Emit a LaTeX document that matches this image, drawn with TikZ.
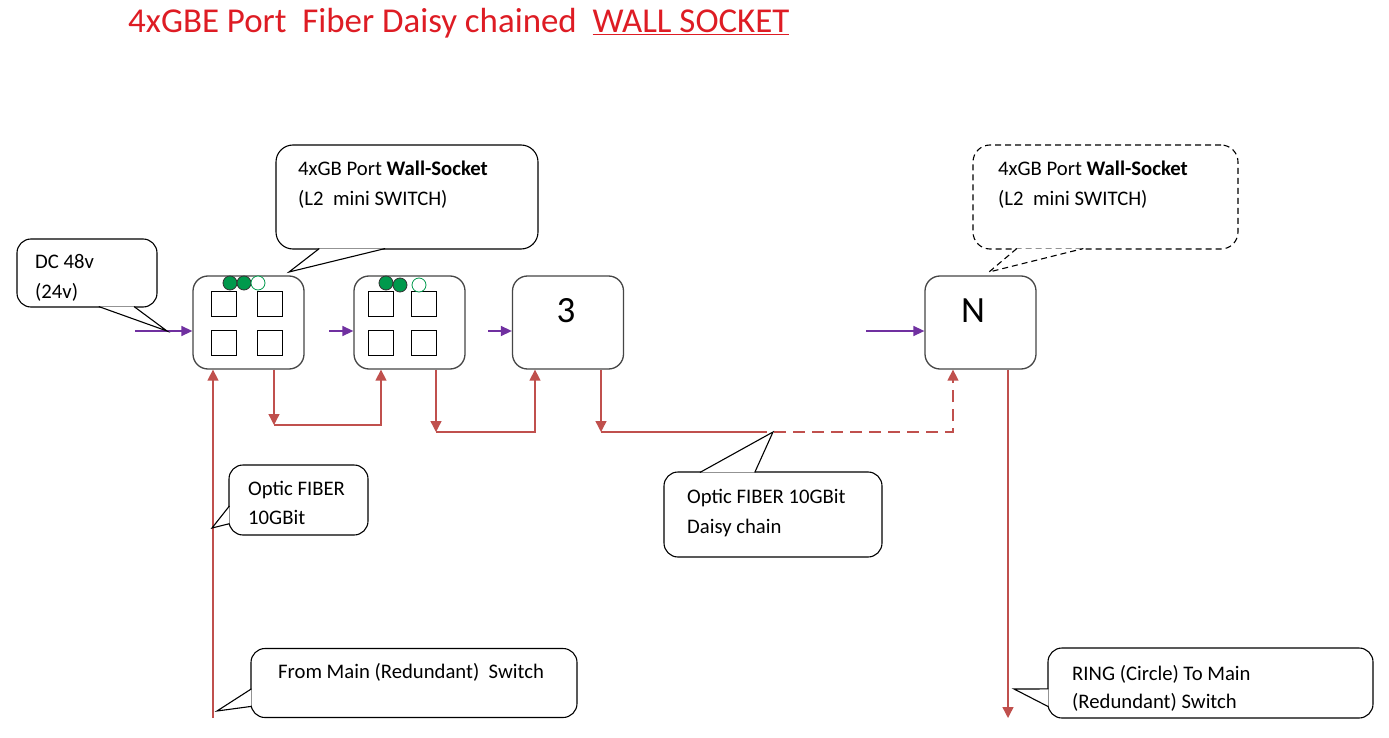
\documentclass[tikz,border=0pt]{standalone}
\usepackage{fontspec}
\setmainfont{Carlito}
\usetikzlibrary{arrows.meta, calc}
\definecolor{titlered}{RGB}{222,28,36}
\definecolor{fibred}{RGB}{192,80,77}
\definecolor{pwrpurple}{RGB}{112,48,160}
\definecolor{ledgreen}{RGB}{0,153,76}
\definecolor{boxgray}{RGB}{70,70,70}
\tikzset{
  swbox/.style={draw=boxgray, line width=1.3pt, rounded corners=15pt,
                minimum width=111pt, minimum height=93pt, inner sep=0pt},
  port/.style={draw, line width=1pt, minimum size=25pt, inner sep=0pt},
  ledon/.style={circle, draw=black!80, fill=ledgreen, minimum size=14pt,
                inner sep=0pt, line width=0.8pt},
  ledoff/.style={circle, draw=ledgreen, fill=white, minimum size=14pt,
                 inner sep=0pt, line width=0.8pt},
  callbox/.style={draw, fill=white, rounded corners=14pt, line width=1.1pt, inner sep=0pt},
  calltip/.style={draw, fill=white, line width=1.1pt},
  calldash/.style={dash pattern=on 6pt off 4pt},
  txt/.style={anchor=base west, inner sep=0pt, font=\fontsize{20.7}{24}\selectfont},
  bignum/.style={inner sep=0pt, font=\fontsize{37}{40}\selectfont},
  fib/.style={draw=fibred, line width=1.4pt, -{Triangle[length=11pt,width=11pt]}},
  fibline/.style={draw=fibred, line width=1.4pt},
  pwr/.style={draw=pwrpurple, line width=1.4pt, -{Triangle[length=11pt,width=10pt]}},
}

\begin{document}
\begin{tikzpicture}[x=1pt, y=-1pt]
  \fill[white] (0,0) rectangle (1389,738);
  \useasboundingbox (0,0) rectangle (1389,738);

  % title
  \node[anchor=base west, inner sep=0pt, text=titlered,
        font=\fontsize{34.9}{40}\selectfont] (title) at (128,33)
        {4xGBE Port\ \ Fiber Daisy chained\ \ \underline{WALL SOCKET}};

  % wall sockets
  \node[swbox] (s1) at (248.5,322.5) {};
  \node[swbox] (s2) at (409.5,322.5) {};
  \node[swbox] (s3) at (568,322.5) {};
  \node[swbox] (sN) at (980.5,322.5) {};
  \node[bignum] (n3) at (566,311) {3};
  \node[bignum] (nN) at (973,311) {N};

  % ports
  \foreach \px/\py [count=\k] in {224/303.5, 270/303.5, 224/342.5, 270/342.5,
                                   380.5/303.5, 423.5/303.5, 380.5/342.5, 423.5/342.5}
    \node[port] (pt\k) at (\px,\py) {};

  % status leds
  \node[ledon] (l1a) at (230,283) {};
  \node[ledon] (l1b) at (244,283) {};
  \node[ledoff] (l1c) at (258,283) {};
  \node[ledon] (l2a) at (386,283) {};
  \node[ledon] (l2b) at (400,285) {};
  \node[ledoff] (l2c) at (419,285) {};

  % power feed
  \coordinate (p0) at (135,331);
  \coordinate (p1) at (329,331);
  \coordinate (p2) at (488,331);
  \coordinate (pN) at (866,331);
  \draw[pwr] (p0) -- (p0 -| s1.west);
  \draw[pwr] (p1) -- (p1 -| s2.west);
  \draw[pwr] (p2) -- (p2 -| s3.west);
  \draw[pwr] (pN) -- (pN -| sN.west);

  % fiber daisy chain
  \coordinate (feed) at (213,718);
  \draw[fib] (feed) -- (feed |- s1.south);
  \coordinate (d1) at (274,425);
  \draw[fib] (d1 |- s1.south) -- (d1);
  \draw[fib] (d1) -| ([xshift=-28.5pt]s2.south);
  \coordinate (d2) at (436,432);
  \draw[fib] (d2 |- s2.south) -- (d2);
  \draw[fib] (d2) -| ([xshift=-33pt]s3.south);
  \coordinate (d3) at (601,432);
  \draw[fib] (d3 |- s3.south) -- (d3);
  \coordinate (dzT) at (773,432);
  \coordinate (dsh) at (755,432);
  \draw[fibline] (d3) -- (dsh);
  \draw[fib, dash pattern=on 12pt off 7pt] (dsh) -| ([xshift=-27.5pt]sN.south);
  \coordinate (ring) at (1008,718);
  \draw[fib] (ring |- sN.south) -- (ring);

  % callouts
  \coordinate (dcT) at (167,331);
  \node[callbox, minimum width=140pt, minimum height=68pt] (dcB) at (87,273) {};
  \path[calltip] ($(dcB.south west)!7/12!(dcB.south east)+(0,-1)$) -- (dcT)
    -- ($(dcB.south west)!10/12!(dcB.south east)+(0,-1)$);
  \node[txt] (dc1) at (35,268) {DC 48v};
  \node[txt] (dc2) at (35,298) {(24v)};

  \coordinate (wsT) at (289,272);
  \node[callbox, rounded corners=17pt, minimum width=262pt, minimum height=104pt] (wsB) at (407,197) {};
  \path[calltip] ($(wsB.south west)!2/12!(wsB.south east)+(0,-1)$) -- (wsT)
    -- ($(wsB.south west)!5/12!(wsB.south east)+(0,-1)$);
  \node[txt] (ws1) at (298,176) {4xGB Port \textbf{Wall-Socket}};
  \node[txt] (ws2) at (298,206) {(L2\ \ mini SWITCH)};

  \coordinate (wsNT) at (989,272);
  \node[callbox, calldash, rounded corners=17pt, minimum width=265pt, minimum height=104pt] (wsNB) at (1105.5,197) {};
  \path[calltip, calldash] ($(wsNB.south west)!2/12!(wsNB.south east)+(0,-1)$) -- (wsNT)
    -- ($(wsNB.south west)!5/12!(wsNB.south east)+(0,-1)$);
  \node[txt] (wsN1) at (998,176) {4xGB Port \textbf{Wall-Socket}};
  \node[txt] (wsN2) at (998,206) {(L2\ \ mini SWITCH)};

  \coordinate (ofT) at (212,528);
  \node[callbox, minimum width=139pt, minimum height=70pt] (ofB) at (298.5,500) {};
  \path[calltip] ($(ofB.north west)!7/12!(ofB.south west)+(1,0)$) -- (ofT)
    -- ($(ofB.north west)!10/12!(ofB.south west)+(1,0)$);
  \node[txt] (of1) at (248,495) {Optic FIBER};
  \node[txt] (of2) at (248,524) {10GBit};

  \node[callbox, minimum width=218pt, minimum height=85pt] (dzB) at (773,514.5) {};
  \path[calltip] ($(dzB.north west)!2/12!(dzB.north east)+(0,1)$) -- (dzT)
    -- ($(dzB.north west)!5/12!(dzB.north east)+(0,1)$);
  \node[txt] (dz1) at (687,503) {Optic FIBER 10GBit};
  \node[txt] (dz2) at (687,533) {Daisy chain};

  \coordinate (fmT) at (217,711);
  \node[callbox, minimum width=326pt, minimum height=69pt] (fmB) at (414,683) {};
  \path[calltip] ($(fmB.north west)!7/12!(fmB.south west)+(1,0)$) -- (fmT)
    -- ($(fmB.north west)!10/12!(fmB.south west)+(1,0)$);
  \node[txt] (fm) at (278,678) {From Main (Redundant)\ \ Switch};

  \coordinate (rgT) at (1014,689);
  \node[callbox, minimum width=325pt, minimum height=70pt] (rgB) at (1210.5,683) {};
  \path[calltip] ($(rgB.north west)!7/12!(rgB.south west)+(1,0)$) -- (rgT)
    -- ($(rgB.north west)!10/12!(rgB.south west)+(1,0)$);
  \node[txt] (rg1) at (1072,680) {RING (Circle) To Main};
  \node[txt] (rg2) at (1072,708) {(Redundant) Switch};
\end{tikzpicture}
\end{document}
